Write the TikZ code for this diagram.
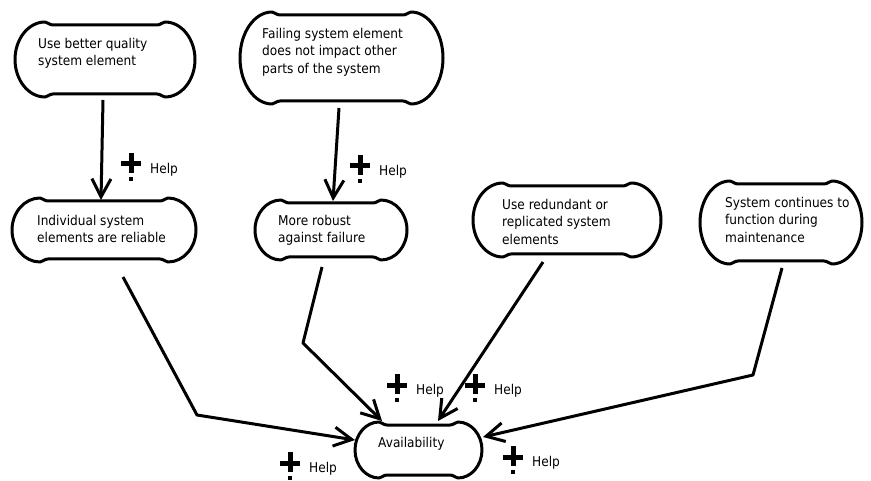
\documentclass[tikz,border=0pt]{standalone}
\usepackage{fontspec}
\setmainfont{DejaVu Sans}[FakeStretch=0.9]
\usetikzlibrary{arrows.meta,calc}

% Hand-drawn looking capsule around a frame node: #1 node name, #2 end radius
\newcommand\drawblob[2]{%
\draw[outline]
 ([shift={(#2+8,3)}]#1.north west) -- ([shift={(-#2-8,3)}]#1.north east)
 .. controls ([shift={(-#2-4,3)}]#1.north east) and ([shift={(-#2-3,0)}]#1.north east) .. ([shift={(-#2,0)}]#1.north east)
 .. controls ([shift={(-0.45*#2,0)}]#1.north east) and ($(#1.north east)!.45!(#1.east)$) .. (#1.east)
 .. controls ($(#1.south east)!.45!(#1.east)$) and ([shift={(-0.45*#2,0)}]#1.south east) .. ([shift={(-#2,0)}]#1.south east)
 .. controls ([shift={(-#2-3,0)}]#1.south east) and ([shift={(-#2-4,-3)}]#1.south east) .. ([shift={(-#2-8,-3)}]#1.south east)
 -- ([shift={(#2+8,-3)}]#1.south west)
 .. controls ([shift={(#2+4,-3)}]#1.south west) and ([shift={(#2+3,0)}]#1.south west) .. ([shift={(#2,0)}]#1.south west)
 .. controls ([shift={(0.45*#2,0)}]#1.south west) and ($(#1.south west)!.45!(#1.west)$) .. (#1.west)
 .. controls ($(#1.north west)!.45!(#1.west)$) and ([shift={(0.45*#2,0)}]#1.north west) .. ([shift={(#2,0)}]#1.north west)
 .. controls ([shift={(#2+3,0)}]#1.north west) and ([shift={(#2+4,3)}]#1.north west) .. ([shift={(#2+8,3)}]#1.north west) -- cycle;}

% "Help" marker: bold plus with a dot below, then the word; #1 name, #2,#3 centre of the plus
\newcommand\helpmark[3]{%
\fill (#2-10,#3-2.5) rectangle (#2+10,#3+2.5);
\fill (#2-2.5,#3-11) rectangle (#2+2.5,#3+9);
\fill (#2-2,#3+13) rectangle (#2+2,#3+17);
\node[helptext] (#1) at (#2+19,#3+9.5) {Help};}

\begin{document}
\begin{tikzpicture}[x=1pt,y=-1pt,
  frame/.style={inner sep=0pt, outer sep=0pt, anchor=north west},
  outline/.style={line width=3pt, line join=round},
  boxtext/.style={anchor=north west, inner sep=0pt, align=left,
    font=\fontsize{13.5}{17.5}\selectfont, execute at begin node=\rule{0pt}{11pt}},
  helptext/.style={anchor=base west, inner sep=0pt, font=\fontsize{13.5}{17.5}\selectfont},
  conn/.style={line width=3pt, line join=round,
    -{Straight Barb[length=18pt,width=19pt]}}]

\useasboundingbox (0,0) rectangle (871,481);

% frames
\node[frame, minimum width=180pt, minimum height=75pt] (b1) at (15,22) {};
\node[frame, minimum width=203pt, minimum height=92pt] (b2) at (240,12) {};
\node[frame, minimum width=184pt, minimum height=64pt] (b3) at (12,198) {};
\node[frame, minimum width=152pt, minimum height=60pt] (b4) at (255,200) {};
\node[frame, minimum width=188pt, minimum height=74pt] (b5) at (473,183) {};
\node[frame, minimum width=162pt, minimum height=83pt] (b6) at (700,181) {};
\node[frame, minimum width=127pt, minimum height=56pt] (av) at (355,422) {};

\drawblob{b1}{30}
\drawblob{b2}{32}
\drawblob{b3}{28}
\drawblob{b4}{26}
\drawblob{b5}{30}
\drawblob{b6}{30}
\drawblob{av}{24}

% texts
\node[boxtext] (t1) at ([shift={(23,16)}]b1.north west) {Use better quality\\system element};
\node[boxtext] (t2) at ([shift={(22,16)}]b2.north west) {Failing system element\\does not impact other\\parts of the system};
\node[boxtext] (t3) at ([shift={(25,17)}]b3.north west) {Individual system\\elements are reliable};
\node[boxtext] (t4) at ([shift={(23,15)}]b4.north west) {More robust\\against failure};
\node[boxtext] (t5) at ([shift={(29,16)}]b5.north west) {Use redundant or\\replicated system\\elements};
\node[boxtext] (t6) at ([shift={(25,16)}]b6.north west) {System continues to\\function during\\maintenance};
\node[boxtext] (ta) at ([shift={(23,14)}]av.north west) {Availability};

% connectors
\draw[conn] ([shift={(88,3)}]b1.south west) -- ([shift={(89,2)}]b3.north west);
\draw[conn] ([shift={(99,4)}]b2.south west) -- ([shift={(78,1)}]b4.north west);
\draw[conn] ([shift={(111,15)}]b3.south west) -- (197,415) -- ([shift={(0,-10)}]av.west);
\draw[conn] ([shift={(67,7)}]b4.south west) -- (303,343) -- ([shift={(27,-1)}]av.north west);
\draw[conn] ([shift={(70,5)}]b5.south west) -- ([shift={(83,-1)}]av.north west);
\draw[conn] ([shift={(82,4)}]b6.south west) -- (753,375) -- ([shift={(1,15)}]av.north east);

% help markers
\helpmark{h1}{131}{164}
\helpmark{h2}{360}{166}
\helpmark{h3}{397}{385}
\helpmark{h4}{475}{385}
\helpmark{h5}{290}{463}
\helpmark{h6}{513}{457}

\end{tikzpicture}
\end{document}
